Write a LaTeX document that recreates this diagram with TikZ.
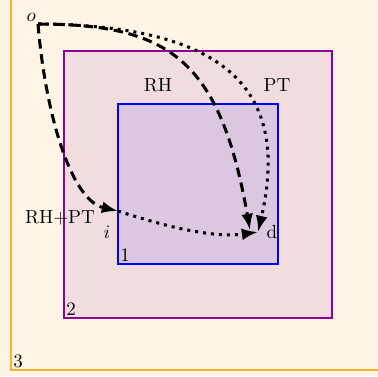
\documentclass[tikz,border=0pt]{standalone}
\usetikzlibrary{arrows.meta,positioning}
\definecolor{creambg}{RGB}{255,245,230}
\definecolor{pinkzone}{RGB}{242,221,222}
\definecolor{lavzone}{RGB}{220,199,224}
\definecolor{violetline}{RGB}{145,0,150}
\definecolor{orangeline}{RGB}{255,175,40}

\begin{document}
\begin{tikzpicture}[
    x=0.0185cm, y=-0.0185cm,
    zone/.style={line width=0.8pt},
    rhpath/.style={dash pattern=on 5pt off 3pt, line width=1.6pt, -{Latex[length=3mm,width=2.2mm]}},
    ptpath/.style={dash pattern=on 1.6pt off 2.6pt, line width=1.6pt, -{Latex[length=3mm,width=2.2mm]}},
    num/.style={anchor=south west, inner sep=1pt}
]
\clip (0,0) rectangle (378,376);
\fill[creambg] (0,0) rectangle (378,376);
% zones
\draw[zone, orangeline, line width=1pt] (11,-10) -- (11,370) -- (390,370);
\draw[zone, violetline, fill=pinkzone] (64,51) rectangle (332,318);
\draw[zone, blue, fill=lavzone] (118,104) rectangle (278,264);
\node[num] (z1) at (118,264) {1};
\node[num] (z2) at (64,318) {2};
\node[num] (z3) at (11,370) {3};
% points
\coordinate (o) at (38,24);
\coordinate (i) at (118,211);
\coordinate (d) at (258,232);
\node[anchor=south east, inner sep=1pt] (olab) at (o) {$o$};
\node (ilab) at (107,232) {$i$};
\node[right=1pt of d] (dlab) {d};
\node (rh) at (158,85) {RH};
\node (pt) at (277,85) {PT};
\node (rhpt) at (60,218) {RH+PT};
% paths
\draw[rhpath] (o) .. controls (45,110) and (70,200) .. (i);
\draw[ptpath] (i) .. controls (170,228) and (215,238) .. (d);
\draw[rhpath] (o) .. controls (170,24) and (220,60) .. (250,230);
\draw[ptpath] (o) .. controls (220,25) and (292,85) .. (d);
\end{tikzpicture}
\end{document}
